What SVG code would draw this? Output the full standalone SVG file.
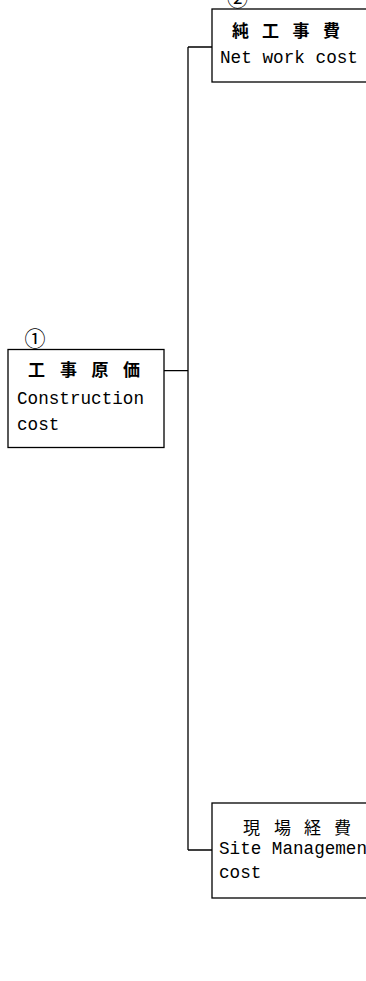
<svg xmlns="http://www.w3.org/2000/svg" width="366" height="981" viewBox="0 0 366 981">
<style>
.box{fill:#fff;stroke:#000;stroke-width:1.3}
.conn{fill:none;stroke:#000;stroke-width:1.3}
.jp{font-family:"Noto Sans CJK JP","Noto Sans CJK SC",sans-serif;font-size:17px;fill:#000}
.b{font-weight:bold}
.num{font-family:"Noto Sans CJK JP",sans-serif;font-size:21px;fill:#000}
.en{font-family:"Liberation Mono","DejaVu Sans Mono",monospace;font-size:18px;fill:#000}
</style>
<rect width="366" height="981" fill="#fff"/>
<g id="connectors">
<path class="conn" d="M164,370.7 H188 M188,47 V850 M188,47 H212 M188,850 H212"/>
</g>
<g id="node1">
<rect class="box" x="8" y="349.5" width="156" height="98"/>
<text class="num" x="24.5" y="346">①</text>
<text class="jp b" y="376"><tspan x="28">工</tspan><tspan x="60">事</tspan><tspan x="91.5">原</tspan><tspan x="123">価</tspan></text>
<text class="en" x="17" y="404" textLength="127" lengthAdjust="spacingAndGlyphs">Construction</text>
<text class="en" x="17" y="430" textLength="42.4" lengthAdjust="spacingAndGlyphs">cost</text>
</g>
<g id="node2">
<text class="num" x="227" y="6">②</text>
<rect class="box" x="212" y="9" width="200" height="73"/>
<text class="jp b" y="36.5"><tspan x="232">純</tspan><tspan x="262">工</tspan><tspan x="292.5">事</tspan><tspan x="323">費</tspan></text>
<text class="en" x="220" y="63" textLength="138" lengthAdjust="spacingAndGlyphs">Net work cost</text>
</g>
<g id="node3">
<rect class="box" x="212" y="803" width="200" height="95"/>
<text class="jp" y="834"><tspan x="243">現</tspan><tspan x="274">場</tspan><tspan x="304">経</tspan><tspan x="334">費</tspan></text>
<text class="en" x="219" y="854" textLength="148" lengthAdjust="spacingAndGlyphs">Site Managemen</text>
<text class="en" x="219" y="878" textLength="42.4" lengthAdjust="spacingAndGlyphs">cost</text>
</g>
</svg>
